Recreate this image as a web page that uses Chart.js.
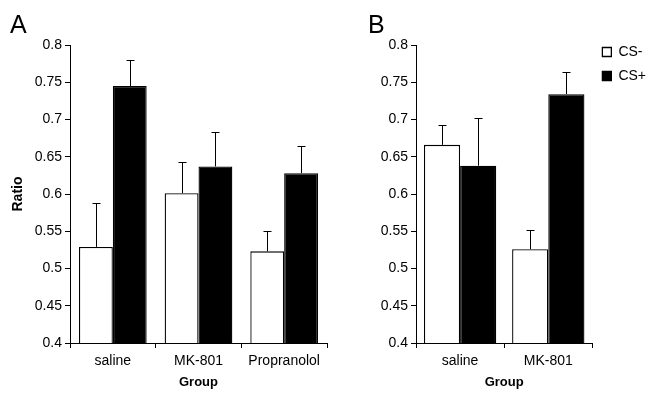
<!DOCTYPE html>
<html>
<head>
<meta charset="utf-8">
<script src="https://cdn.jsdelivr.net/npm/chart.js@4"></script>
<style>
  body { margin: 0; background: #fff; width: 650px; height: 400px; position: relative; overflow: hidden; font-family: "Liberation Sans", Arial, sans-serif; }
  canvas { position: absolute; top: 0; }
  .letter { position: absolute; top: 10px; font-size: 25px; line-height: 1.15; color: #000; }
</style>
</head>
<body>
<canvas id="chartA" width="330" height="400" style="left:0"></canvas>
<canvas id="chartB" width="320" height="400" style="left:330px"></canvas>
<div class="letter" style="left:10px">A</div>
<div class="letter" style="left:368px">B</div>

<script>
// values (ratio, upward error = SEM)
const groupsA = ["saline", "MK-801", "Propranolol"];
const groupsB = ["saline", "MK-801"];

const csMinusA = [0.529, 0.601, 0.523];
const csPlusA = [0.745, 0.637, 0.628];
const csMinusErrA = [0.059, 0.042, 0.027];
const csPlusErrA = [0.035, 0.046, 0.037];

const csMinusB = [0.666, 0.526];
const csPlusB = [0.638, 0.734];
const csMinusErrB = [0.027, 0.026];
const csPlusErrB = [0.064, 0.030];

const yTicks = [0.4, 0.45, 0.5, 0.55, 0.6, 0.65, 0.7, 0.75, 0.8];

Chart.defaults.font.family = '"Liberation Sans", Arial, sans-serif';
Chart.defaults.color = "#000";

// error bars, only the upper half like in the figure
const errorBars = {
  id: "errorBars",
  afterDatasetsDraw(chart) {
    const ctx = chart.ctx;
    const yScale = chart.scales.y;
    chart.data.datasets.forEach((ds, i) => {
      const meta = chart.getDatasetMeta(i);
      meta.data.forEach((bar, j) => {
        const top = Math.round(yScale.getPixelForValue(ds.data[j] + ds.errors[j])) + 0.5;
        const x = Math.round(bar.x) + 0.5;
        ctx.save();
        ctx.strokeStyle = "#000";
        ctx.lineWidth = 1;
        ctx.beginPath();
        ctx.moveTo(x, bar.y);
        ctx.lineTo(x, top);
        ctx.moveTo(x - 4, top);
        ctx.lineTo(x + 4, top);
        ctx.stroke();
        ctx.restore();
      });
    });
  }
};

// pull the legend up a little so it sits beside the top of the axis
const legendShift = {
  id: "legendShift",
  afterLayout(chart) {
    const l = chart.legend;
    if (l && l.options.display) {
      l.top -= 10;
      l.bottom -= 10;
    }
  }
};

function makeChart(id, labels, minus, plus, minusErr, plusErr, cfg) {
  return new Chart(document.getElementById(id), {
    type: "bar",
    data: {
      labels: labels,
      datasets: [
        { label: "CS-", data: minus, errors: minusErr, backgroundColor: "#fff", borderColor: "#000", borderWidth: 1.3 },
        { label: "CS+", data: plus, errors: plusErr, backgroundColor: "#000", borderColor: "#000", borderWidth: 1.3 }
      ]
    },
    options: {
      responsive: false,
      animation: false,
      devicePixelRatio: 1,
      categoryPercentage: cfg.catPct,
      barPercentage: 1,
      layout: { padding: { top: 45, right: cfg.padRight, bottom: 0, left: 0 } },
      plugins: {
        tooltip: { enabled: false },
        legend: {
          display: cfg.legend,
          position: "right",
          align: "start",
          labels: { boxWidth: 9, boxHeight: 9, padding: 10, color: "#000", font: { size: 14 } }
        }
      },
      scales: {
        x: {
          grid: { drawOnChartArea: false, offset: true, tickLength: 5, color: "#000" },
          border: { color: "#000" },
          ticks: { color: "#000", padding: 5, font: { size: 14 } },
          title: { display: true, text: "Group", color: "#000", font: { size: 13, weight: "bold" }, padding: { bottom: 10 } },
          afterFit: s => { s.height = 57; }
        },
        y: {
          min: 0.4,
          max: 0.8,
          afterBuildTicks: s => { s.ticks = yTicks.map(v => ({ value: v })); },
          grid: { drawOnChartArea: false, tickLength: 5, color: "#000" },
          border: { color: "#000" },
          ticks: { color: "#000", padding: 3, font: { size: 14 }, callback: v => String(+v.toFixed(2)) },
          title: { display: cfg.yTitle, text: "Ratio", color: "#000", font: { size: 14, weight: "bold" }, padding: { top: 10 } },
          afterFit: s => { s.width = cfg.yWidth; }
        }
      }
    },
    plugins: [errorBars, legendShift]
  });
}

makeChart("chartA", groupsA, csMinusA, csPlusA, csMinusErrA, csPlusErrA,
  { catPct: 0.79, padRight: 3, legend: false, yTitle: true, yWidth: 70 });
makeChart("chartB", groupsB, csMinusB, csPlusB, csMinusErrB, csPlusErrB,
  { catPct: 0.82, padRight: -6, legend: true, yTitle: false, yWidth: 86 });
</script>
</body>
</html>
